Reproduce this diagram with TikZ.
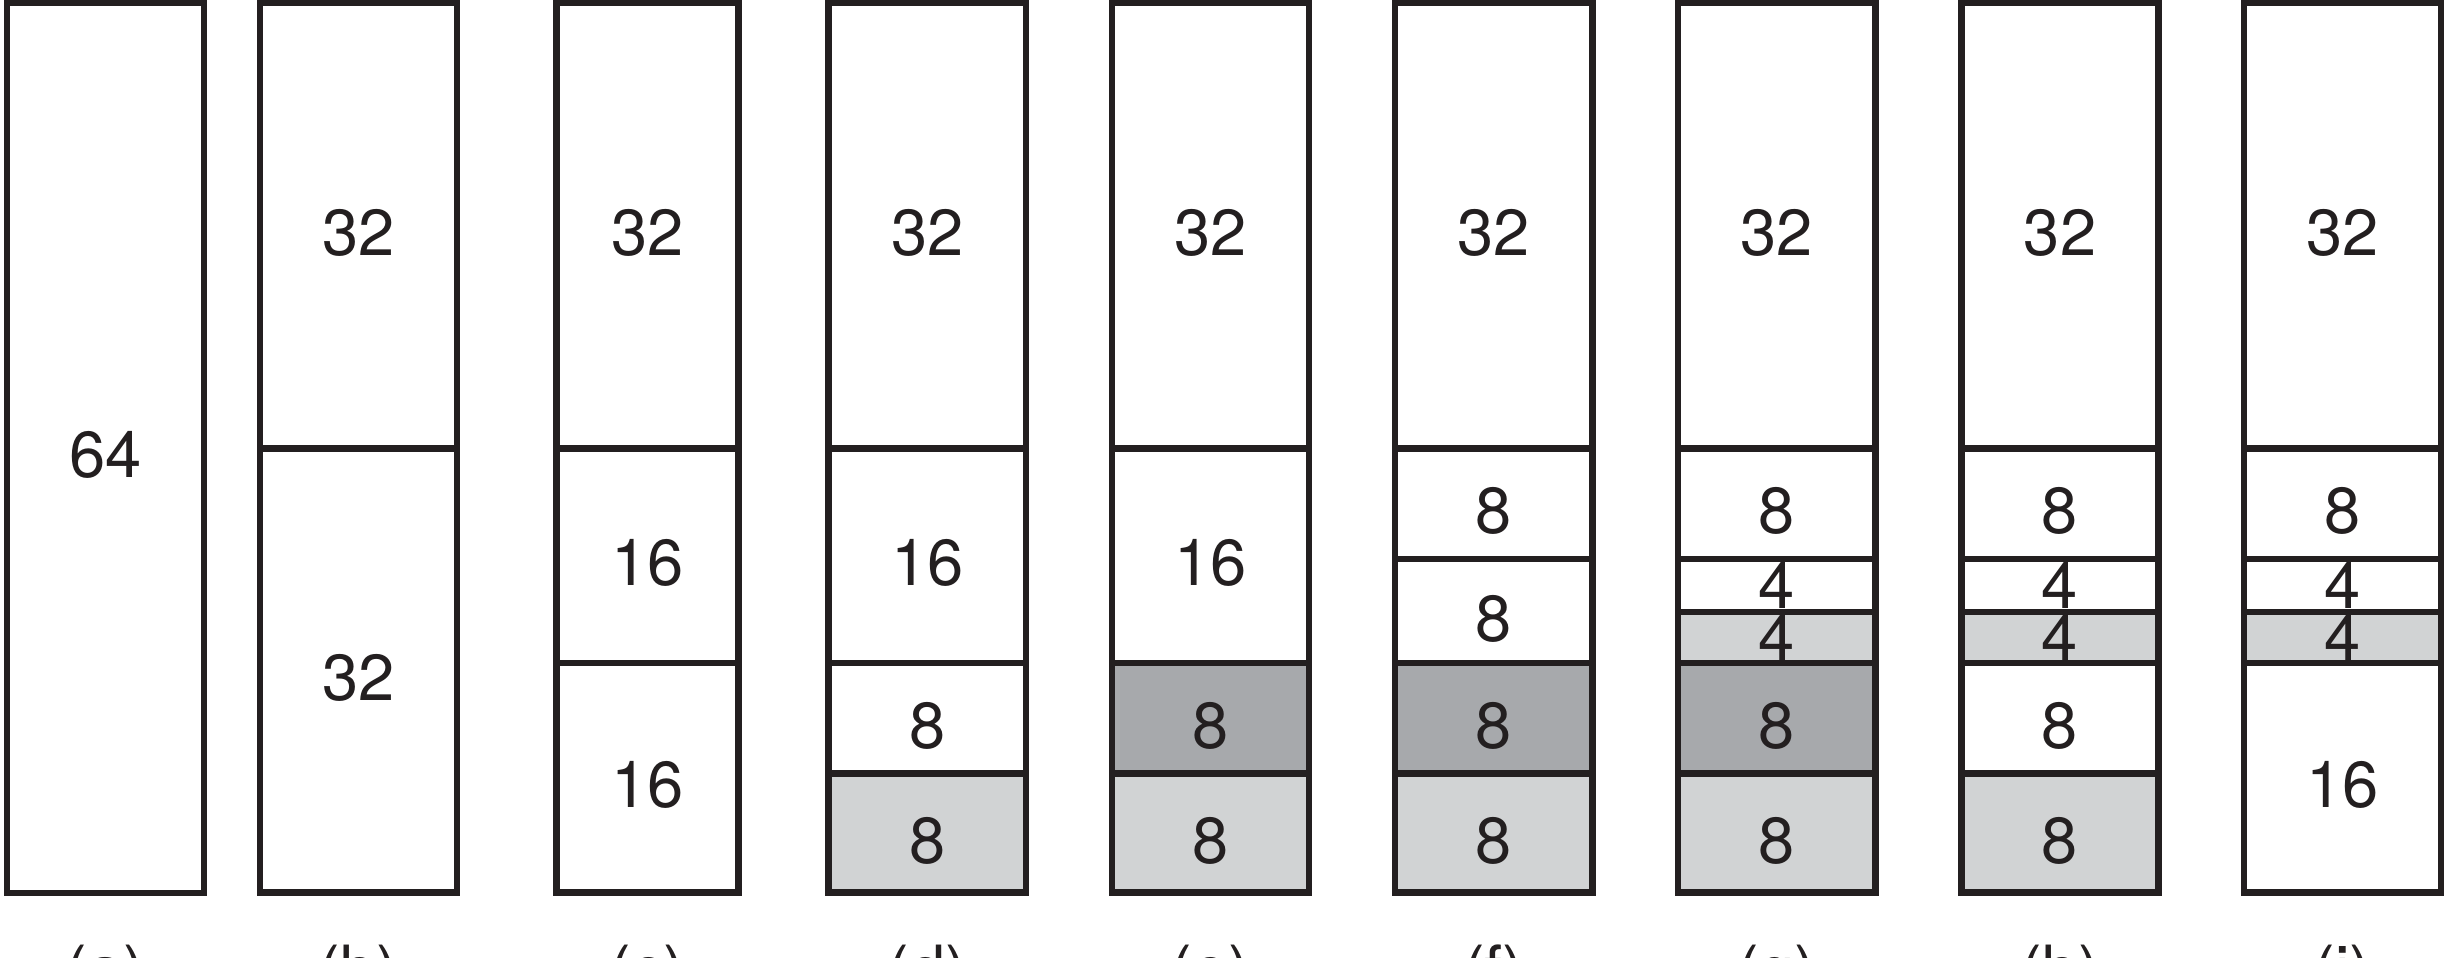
\documentclass[tikz,border=0pt]{standalone}
\usepackage{fontspec}
\setmainfont{TeX Gyre Heros}
\definecolor{ink}{HTML}{231F20}
\definecolor{lgray}{HTML}{D1D3D4}
\definecolor{dgray}{HTML}{A7A9AC}
\begin{document}
\begin{tikzpicture}[x=0.01cm,y=-0.01cm, cell/.style={draw=ink,line width=1.85pt,rectangle,inner sep=0pt,outer sep=0pt,minimum width=1.97cm,text=ink,font=\fontsize{18.5}{22}\selectfont,text height=.6cm,text depth=0pt}, narrow/.style={minimum width=1.82cm}, four/.style={text height=.46cm}, lt/.style={fill=lgray}, dk/.style={fill=dgray}, lab/.style={anchor=base,text=ink,font=\fontsize{18.5}{22}\selectfont}]
\useasboundingbox (0,0) rectangle (2446,957);
\node[cell,minimum height=8.895cm] (a1) at (105.5,447.75) {64};
\node[cell,minimum height=4.455cm] (b1) at (358.5,225.75) {32};
\node[cell,minimum height=4.44cm] (b2) at (358.5,670.5) {32};
\node[cell,narrow,minimum height=4.455cm] (c1) at (647.5,225.75) {32};
\node[cell,narrow,minimum height=2.145cm] (c2) at (647.5,555.75) {16};
\node[cell,narrow,minimum height=2.295cm] (c3) at (647.5,777.75) {16};
\node[cell,minimum height=4.455cm] (d1) at (927.25,225.75) {32};
\node[cell,minimum height=2.145cm] (d2) at (927.25,555.75) {16};
\node[cell,minimum height=1.105cm] (d3) at (927.25,718.25) {8};
\node[cell,lt,minimum height=1.19cm] (d4) at (927.25,833) {8};
\node[cell,minimum height=4.455cm] (e1) at (1210.5,225.75) {32};
\node[cell,minimum height=2.145cm] (e2) at (1210.5,555.75) {16};
\node[cell,dk,minimum height=1.105cm] (e3) at (1210.5,718.25) {8};
\node[cell,lt,minimum height=1.19cm] (e4) at (1210.5,833) {8};
\node[cell,minimum height=4.455cm] (f1) at (1493.75,225.75) {32};
\node[cell,minimum height=1.105cm] (f2) at (1493.75,503.75) {8};
\node[cell,minimum height=1.04cm] (f3) at (1493.75,611) {8};
\node[cell,dk,minimum height=1.105cm] (f4) at (1493.75,718.25) {8};
\node[cell,lt,minimum height=1.19cm] (f5) at (1493.75,833) {8};
\node[cell,minimum height=4.455cm] (g1) at (1776.75,225.75) {32};
\node[cell,minimum height=1.105cm] (g2) at (1776.75,503.75) {8};
\node[cell,four,minimum height=.53cm] (g3) at (1776.75,585.5) {4};
\node[cell,four,lt,minimum height=.51cm] (g4) at (1776.75,637.5) {4};
\node[cell,dk,minimum height=1.105cm] (g5) at (1776.75,718.25) {8};
\node[cell,lt,minimum height=1.19cm] (g6) at (1776.75,833) {8};
\node[cell,minimum height=4.455cm] (h1) at (2060,225.75) {32};
\node[cell,minimum height=1.105cm] (h2) at (2060,503.75) {8};
\node[cell,four,minimum height=.53cm] (h3) at (2060,585.5) {4};
\node[cell,four,lt,minimum height=.51cm] (h4) at (2060,637.5) {4};
\node[cell,minimum height=1.105cm] (h5) at (2060,718.25) {8};
\node[cell,lt,minimum height=1.19cm] (h6) at (2060,833) {8};
\node[cell,minimum height=4.455cm] (i1) at (2342.5,225.75) {32};
\node[cell,minimum height=1.105cm] (i2) at (2342.5,503.75) {8};
\node[cell,four,minimum height=.53cm] (i3) at (2342.5,585.5) {4};
\node[cell,four,lt,minimum height=.51cm] (i4) at (2342.5,637.5) {4};
\node[cell,minimum height=2.295cm] (i5) at (2342.5,777.75) {16};
\node[lab] (la) at (105.5,992) {(a)};
\node[lab] (lb) at (358.5,992) {(b)};
\node[lab] (lc) at (647.5,992) {(c)};
\node[lab] (ld) at (927.25,992) {(d)};
\node[lab] (le) at (1210.5,992) {(e)};
\node[lab] (lf) at (1493.75,992) {(f)};
\node[lab] (lg) at (1776.75,992) {(g)};
\node[lab] (lh) at (2060,992) {(h)};
\node[lab] (li) at (2342.5,992) {(i)};
\end{tikzpicture}
\end{document}
